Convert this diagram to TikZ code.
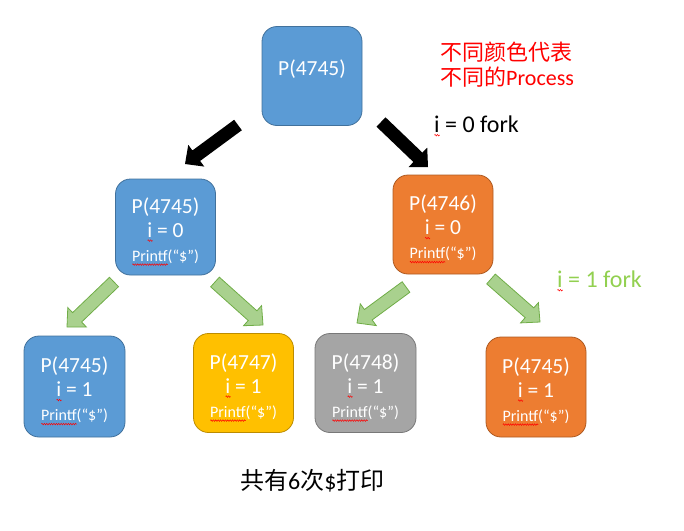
\documentclass[tikz,border=0pt]{standalone}
\usepackage{fontspec}
\setmainfont{Carlito}
\newfontfamily\cjk{Noto Sans CJK SC}
\usepackage{tikz}
\usetikzlibrary{calc, decorations.pathmorphing}
\definecolor{pblue}{HTML}{5B9BD5}
\definecolor{pblueline}{HTML}{41719C}
\definecolor{porange}{HTML}{ED7D31}
\definecolor{porangeline}{HTML}{AE5A21}
\definecolor{pyellow}{HTML}{FFC000}
\definecolor{pyellowline}{HTML}{BC8C00}
\definecolor{pgray}{HTML}{A5A5A5}
\definecolor{pgrayline}{HTML}{787878}
\definecolor{kidgreen}{HTML}{A9D18E}
\definecolor{kidgreenline}{HTML}{70AD47}
\definecolor{forkgreen}{HTML}{92D050}
% red wavy spell mark under a word
\newdimen\squigwd
\newcommand{\squig}[1]{\setbox0\hbox{#1}\squigwd=\wd0\relax
  \rlap{\tikz[baseline=0pt]\draw[red, line width=0.5pt, sharp corners, decorate,
    decoration={zigzag, amplitude=0.8pt, segment length=2.4pt}] (0pt,-3.2pt) -- (\squigwd,-3.2pt);}\box0\relax}
% block arrow from #2 to #3
\newcommand{\forkarrow}[3][]{%
  \coordinate (fh) at ($(#3)!14pt!(#2)$);
  \path[#1] ($(#2)!6.5pt!90:(#3)$) -- ($(fh)!6.5pt!-90:(#2)$) -- ($(fh)!13.5pt!-90:(#2)$)
    -- (#3) -- ($(fh)!13.5pt!90:(#2)$) -- ($(fh)!6.5pt!90:(#2)$) -- ($(#2)!6.5pt!-90:(#3)$) -- cycle;}
\tikzset{
  proc/.style={draw, rounded corners=15pt, minimum width=100pt, minimum height=99pt, align=center,
    text=white, line width=0.8pt, font=\fontsize{21.5}{24}\selectfont},
  blueproc/.style={proc, fill=pblue, draw=pblueline},
  orangeproc/.style={proc, fill=porange, draw=porangeline},
  note/.style={anchor=base west, inner sep=0pt, font=\fontsize{24}{28}\selectfont},
  forkarr/.style={fill=black},
  kidarr/.style={fill=kidgreen, draw=kidgreenline, line width=0.8pt},
}
\newcommand{\pf}{{\fontsize{16}{20}\selectfont\squig{Printf}(“\$”)}}
\newcommand{\pid}[1]{\rule{0pt}{25pt}P(#1)}

\begin{document}
\begin{tikzpicture}[x=1pt, y=-1pt]
  \useasboundingbox (0,0) rectangle (684,530);
  % processes
  \node[blueproc] (p0) at (312,76) {\raisebox{7pt}[\height][\depth]{P(4745)}};
  \node[blueproc, minimum height=96pt] (p1) at (165.5,227) {\pid{4745}\\\squig{i} = 0\\\pf};
  \node[orangeproc] (p2) at (443,224.5) {\pid{4746}\\\squig{i} = 0\\\pf};
  \node[blueproc, minimum width=101pt, minimum height=101pt] (q1) at (74.5,386.5) {\pid{4745}\\\squig{i} = 1\\\pf};
  \node[proc, fill=pyellow, draw=pyellowline] (q2) at (243.5,383) {\pid{4747}\\\squig{i} = 1\\\pf};
  \node[proc, fill=pgray, draw=pgrayline, minimum width=101pt] (q3) at (365.5,383) {\pid{4748}\\\squig{i} = 1\\\pf};
  \node[orangeproc, minimum height=100pt] (q4) at (536,387) {\pid{4745}\\\squig{i} = 1\\\pf};
  % fork arrows
  \coordinate (f1s) at (238,125); \coordinate (f1e) at (185,164);
  \coordinate (f2s) at (381,122); \coordinate (f2e) at (428,167);
  \coordinate (g1s) at (114,282); \coordinate (g1e) at (67,327);
  \coordinate (g2s) at (215,282); \coordinate (g2e) at (263,325);
  \coordinate (g3s) at (406,287); \coordinate (g3e) at (357,323);
  \coordinate (g4s) at (491,279); \coordinate (g4e) at (540,322);
  \forkarrow[forkarr]{f1s}{f1e}
  \forkarrow[forkarr]{f2s}{f2e}
  \forkarrow[kidarr]{g1s}{g1e}
  \forkarrow[kidarr]{g2s}{g2e}
  \forkarrow[kidarr]{g3s}{g3e}
  \forkarrow[kidarr]{g4s}{g4e}
  % notes
  \node[note, text=red, font=\fontsize{22}{26}\selectfont] (c1) at (440,60) {\cjk 不同颜色代表};
  \node[note, text=red, font=\fontsize{22}{26}\selectfont] (c2) at (440,85) {{\cjk 不同的}Process};
  \node[note] (i0) at (434,132) {\squig{i} = 0 fork};
  \node[note, text=forkgreen] (i1) at (557,287) {\squig{i} = 1 fork};
  \node[note] (sum) at (240,489) {{\cjk 共有}6{\cjk 次}\${\cjk 打印}};
\end{tikzpicture}
\end{document}
